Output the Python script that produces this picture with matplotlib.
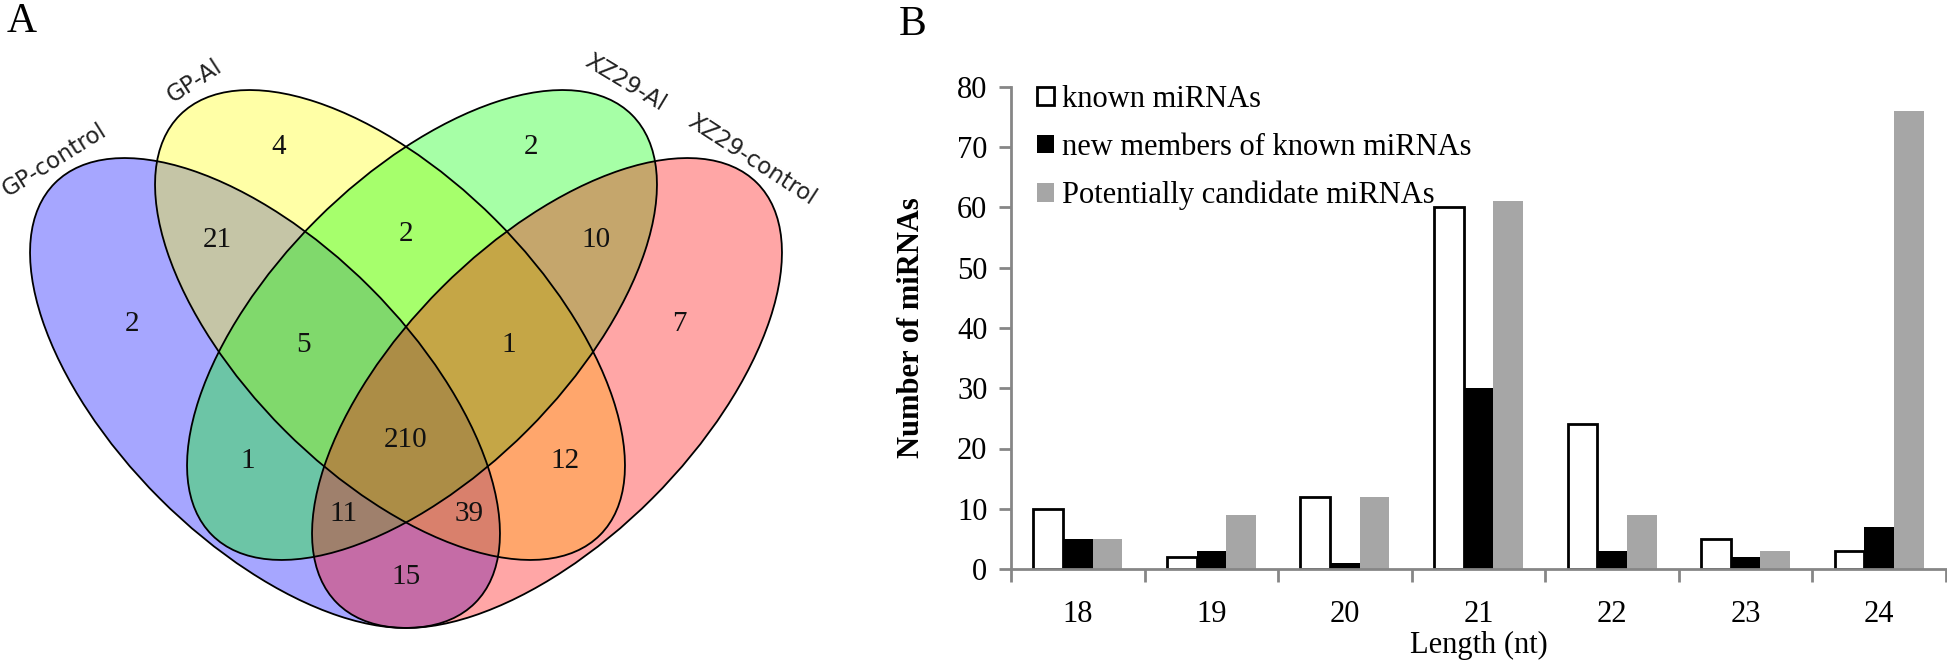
import numpy as np
import matplotlib
matplotlib.use("Agg")
import matplotlib.pyplot as plt
from matplotlib.patches import Ellipse, Patch

# ===== Panel A: Venn counts =====
set_names = ["GP-control", "GP-Al", "XZ29-Al", "XZ29-control"]
set_colors = ["#0000ff", "#ffff00", "#00ff00", "#ff0000"]
region_keys = ["A", "B", "C", "D", "AB", "BC", "CD", "ABC", "BCD",
               "ABCD", "AC", "BD", "ACD", "ABD", "AD"]
region_counts = [2, 4, 2, 7, 21, 2, 10, 5, 1, 210, 1, 12, 11, 39, 15]

# ===== Panel B: length distribution =====
lengths = ["18", "19", "20", "21", "22", "23", "24"]
known = [10, 2, 12, 60, 24, 5, 3]
new_members = [5, 3, 1, 30, 3, 2, 7]
candidates = [5, 9, 12, 61, 9, 3, 76]

serif = ["Liberation Serif", "DejaVu Serif"]

fig = plt.figure(figsize=(19.47, 6.6), dpi=100)

# --- Venn diagram, axes in pixel units (y down) ---
axv = fig.add_axes([0, 0, 900 / 1947, 1])
axv.set_xlim(0, 900)
axv.set_ylim(660, 0)
axv.axis("off")

cx = [265, 390, 422, 547]
cy = [393, 325, 325, 393]
ang = [45, 45, -45, -45]
for i in range(4):
    axv.add_patch(Ellipse((cx[i], cy[i]), 594, 298, angle=ang[i],
                          facecolor=set_colors[i], alpha=0.35, edgecolor="none"))
for i in range(4):
    axv.add_patch(Ellipse((cx[i], cy[i]), 594, 298, angle=ang[i],
                          facecolor="none", edgecolor="black", lw=1.3))

region_pos = {
    "A": (132, 324), "B": (279, 147), "C": (531, 147), "D": (679, 324),
    "AB": (217, 240), "BC": (406, 234), "CD": (596, 240),
    "ABC": (303, 345), "BCD": (509, 345), "ABCD": (406, 440),
    "AC": (248, 461), "BD": (565, 461), "ACD": (343, 514),
    "ABD": (469, 514), "AD": (406, 577),
}
for key, val in zip(region_keys, region_counts):
    x, y = region_pos[key]
    axv.text(x, y, str(val), ha="center", va="center", fontsize=21,
             family=serif, color="#111111")

label_pos = [(54, 160, 32), (195, 81, 33), (625, 83, -31), (752, 160, -33)]
for name, (x, y, r) in zip(set_names, label_pos):
    axv.text(x, y, name, ha="center", va="center", rotation=r,
             rotation_mode="anchor", fontsize=16.5, family="DejaVu Sans",
             color="#222222")

fig.text(22 / 1947, 1 - 22 / 660, "A", ha="center", va="center",
         fontsize=30, family=serif)
fig.text(913 / 1947, 1 - 25 / 660, "B", ha="center", va="center",
         fontsize=30, family=serif)

# --- Bar chart ---
ax = fig.add_axes([1011 / 1947, 1 - 569 / 660, 935 / 1947, (569 - 87) / 660])
x = np.arange(len(lengths))
w = 0.222
ax.bar(x - w, known, w, facecolor="white", edgecolor="black", lw=2,
       label="known miRNAs")
ax.bar(x, new_members, w, facecolor="black", edgecolor="none",
       label="new members of known miRNAs")
ax.bar(x + w, candidates, w, facecolor="#a6a6a6", edgecolor="none",
       label="Potentially candidate miRNAs")

ax.set_xlim(-0.5, len(lengths) - 0.5)
ax.set_ylim(0, 80)
ax.set_yticks(range(0, 81, 10))
ax.set_xticks(x)
ax.set_xticklabels(lengths)
ax.set_xticks(np.arange(len(lengths) + 1) - 0.5, minor=True)
ax.tick_params(axis="x", which="major", length=0, pad=22)
ax.tick_params(axis="x", which="minor", length=9, width=2, color="#868686")
ax.tick_params(axis="y", length=9, width=2, color="#868686", pad=8)
for lab in ax.get_xticklabels() + ax.get_yticklabels():
    lab.set_family(serif)
    lab.set_fontsize(22)
for s in ["top", "right"]:
    ax.spines[s].set_visible(False)
for s in ["left", "bottom"]:
    ax.spines[s].set_color("#868686")
    ax.spines[s].set_linewidth(2)

ax.set_ylabel("Number of miRNAs", family=serif, fontsize=22,
              fontweight="bold", labelpad=22)
ax.set_xlabel("Length (nt)", family=serif, fontsize=22, labelpad=2)

handles = [Patch(facecolor="white", edgecolor="black", lw=2),
           Patch(facecolor="black"),
           Patch(facecolor="#a6a6a6")]
ax.legend(handles, ["known miRNAs", "new members of known miRNAs",
                    "Potentially candidate miRNAs"],
          loc="upper left", bbox_to_anchor=(0.015, 1.03), frameon=False,
          prop={"family": serif, "size": 22}, handlelength=0.55,
          handleheight=0.55, handletextpad=0.25, labelspacing=0.62,
          borderaxespad=0)

fig.savefig("out.png", dpi=100)
